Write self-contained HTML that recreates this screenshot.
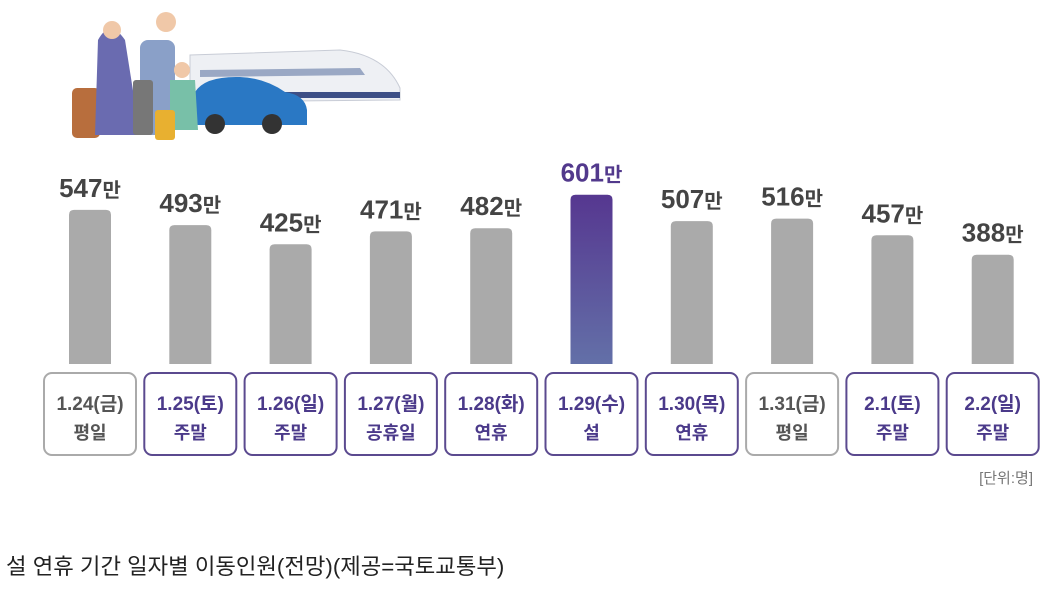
<!DOCTYPE html>
<html><head><meta charset="utf-8"><style>
body{margin:0;width:1052px;height:590px;background:#fff;overflow:hidden;font-family:"Liberation Sans","Noto Sans CJK KR",sans-serif;}
svg text{font-family:"Liberation Sans","Noto Sans CJK KR",sans-serif;}
</style></head><body>
<svg width="1052" height="590">
<defs><linearGradient id="pg" x1="0" y1="0" x2="0" y2="1"><stop offset="0" stop-color="#563790"/><stop offset="1" stop-color="#6370a8"/></linearGradient></defs>
<g>
<path d="M190,55 L340,50 Q385,55 400,88 L400,100 L190,102 Z" fill="#eef0f4" stroke="#c8ccd6"/>
<path d="M200,70 L360,68 L365,75 L200,77 Z" fill="#9aa8c4"/>
<rect x="190" y="92" width="210" height="6" fill="#3d4f86"/>
<path d="M195,92 Q205,76 240,77 Q265,78 285,92 Q305,95 307,110 L307,125 L195,125 Z" fill="#2a78c4"/>
<circle cx="215" cy="124" r="10" fill="#333"/><circle cx="272" cy="124" r="10" fill="#333"/>
<rect x="72" y="88" width="28" height="50" rx="5" fill="#b86e3d"/>
<path d="M98,40 Q110,18 125,40 L140,135 L95,135 Z" fill="#6a6bb0"/>
<circle cx="112" cy="30" r="9" fill="#f0c8a8"/>
<rect x="140" y="40" width="35" height="95" rx="8" fill="#8aa0c8"/>
<circle cx="166" cy="22" r="10" fill="#f0c8a8"/>
<rect x="133" y="80" width="20" height="55" rx="3" fill="#777"/>
<path d="M170,80 L195,80 L198,130 L170,130 Z" fill="#78c0a8"/>
<circle cx="182" cy="70" r="8" fill="#f0c8a8"/>
<rect x="155" y="110" width="20" height="30" rx="3" fill="#e8b030"/>
</g>
<g id="bars"></g>
<text x="1033" y="483" font-size="15" fill="#777" text-anchor="end">[단위:명]</text>
<text x="6" y="574" font-size="22.3" fill="#222">설 연휴 기간 일자별 이동인원(전망)(제공=국토교통부)</text>
</svg>
<script>
const dates=["1.24(금)","1.25(토)","1.26(일)","1.27(월)","1.28(화)","1.29(수)","1.30(목)","1.31(금)","2.1(토)","2.2(일)"];
const kinds=["평일","주말","주말","공휴일","연휴","설","연휴","평일","주말","주말"];
const values=[547,493,425,471,482,601,507,516,457,388];
const ns="http://www.w3.org/2000/svg";
const g=document.getElementById("bars");
const base=364,k=0.2817,x0=90,step=100.3;
function xs(i){return x0+i*step;}
function ys(v){return base-v*k;}
function mk(t,a){const e=document.createElementNS(ns,t);for(const n in a)e.setAttribute(n,a[n]);g.appendChild(e);return e;}
values.forEach((v,i)=>{
 const cx=xs(i),hi=i===5,gray=kinds[i]==="평일";
 const r=mk("path",{d:`M${cx-21},${base} L${cx-21},${ys(v)+5} Q${cx-21},${ys(v)} ${cx-16},${ys(v)} L${cx+16},${ys(v)} Q${cx+21},${ys(v)} ${cx+21},${ys(v)+5} L${cx+21},${base} Z`,fill:hi?"url(#pg)":"#aaaaaa"});
 
 
 const t=mk("text",{x:cx,y:ys(v)-13,"text-anchor":"middle","font-size":"26","font-weight":"bold",fill:hi?"#52398c":"#444"});
 t.innerHTML=v+'<tspan font-size="20">만</tspan>';
 
 
 const b=mk("rect",{x:cx-46,y:373,width:92,height:82,rx:8,fill:"#fff",stroke:gray?"#aaa":"#5b4a8f","stroke-width":"2"});
 
 
 const col=gray?"#555":"#4b3a8a";
 const d=mk("text",{x:cx,y:410,"text-anchor":"middle","font-size":"19","font-weight":"bold",fill:col});
 d.textContent=dates[i];
 
 
 const kk=mk("text",{x:cx,y:439,"text-anchor":"middle","font-size":"18","font-weight":"bold",fill:col});
 kk.textContent=kinds[i];
 
 
});
</script>
</body></html>
